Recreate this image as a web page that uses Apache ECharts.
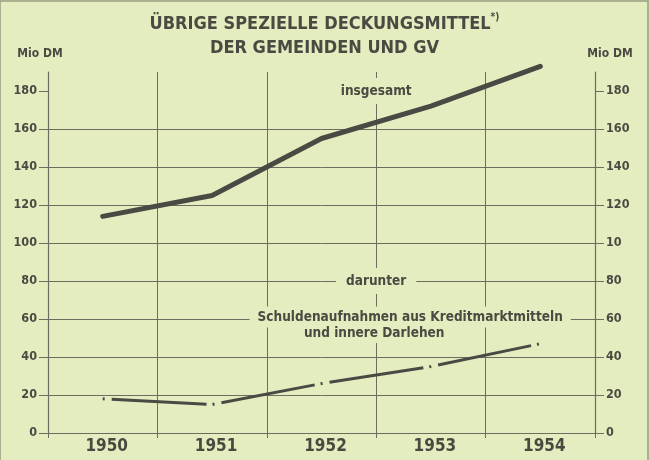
<!DOCTYPE html>
<html>
<head>
<meta charset="utf-8">
<script src="https://cdn.jsdelivr.net/npm/echarts@6/dist/echarts.min.js"></script>
<style>
html, body { margin: 0; padding: 0; background: #e4edbf; }
#chart { width: 649px; height: 460px; }
</style>
</head>
<body>
<div id="chart"></div>
<script>
// Werte in Mio DM
const years = ['1950', '1951', '1952', '1953', '1954']
const insgesamt = [114, 125, 155, 172, 193]
const schulden = [18, 15, 26, 35, 47]
const yTicks = [0, 20, 40, 60, 80, 100, 120, 140, 160, 180]
const yLabelsLeft = ['0', '20', '40', '60', '80', '100', '120', '140', '160', '180']
// rechte Achse: im Original steht "10" statt "100"
const yLabelsRight = ['0', '20', '40', '60', '80', '10', '120', '140', '160', '180']

const ink = '#4b4a42'
const gridInk = '#6d6c5e'
const bg = '#e4edbf'
const font = '"DejaVu Sans Condensed", "DejaVu Sans", sans-serif'

const chart = echarts.init(document.getElementById('chart'))

function yAxis(labels, right) {
  return {
    type: 'value',
    min: 0,
    max: 190,
    position: right ? 'right' : 'left',
    name: 'Mio DM',
    nameLocation: 'end',
    nameGap: 12,
    nameTextStyle: {
      color: ink, fontFamily: font, fontWeight: 'bold', fontSize: 12,
      padding: right ? [0, 0, 0, 30] : [0, 16, 0, 0]
    },
    axisLine: { show: true, lineStyle: { color: gridInk, width: 1.2 } },
    axisTick: { show: true, length: 9, customValues: yTicks, lineStyle: { color: gridInk } },
    axisLabel: {
      customValues: yTicks,
      margin: 11,
      color: ink, fontFamily: font, fontWeight: 'bold', fontSize: 12.5,
      formatter: (v) => labels[yTicks.indexOf(v)] ?? ''
    },
    splitLine: {
      show: !right, showMaxLine: false,
      lineStyle: { color: gridInk, width: 1 }
    }
  }
}

chart.setOption({
  backgroundColor: bg,
  animation: false,
  title: {
    left: 'center',
    top: 7,
    text: '{a|ÜBRIGE SPEZIELLE DECKUNGSMITTEL}{s|*)}\n{a|DER GEMEINDEN UND GV}',
    textStyle: {
      rich: {
        a: { color: ink, fontFamily: font, fontWeight: 'bold', fontSize: 18, lineHeight: 24 },
        s: { color: ink, fontFamily: font, fontWeight: 'bold', fontSize: 10, verticalAlign: 'top', lineHeight: 24, padding: [0, 0, 8, 0] }
      }
    }
  },
  grid: { left: 48, right: 54, top: 72, bottom: 27 },
  xAxis: {
    type: 'category',
    data: years,
    boundaryGap: true,
    axisLine: { lineStyle: { color: gridInk, width: 1.2 } },
    axisTick: { show: true, length: 5, lineStyle: { color: gridInk } },
    axisLabel: {
      margin: 5,
      padding: [0, 0, 0, 8],
      color: '#4a4940', fontFamily: font, fontWeight: 'bold', fontSize: 17
    },
    splitLine: { show: true, lineStyle: { color: gridInk, width: 1 } }
  },
  yAxis: [yAxis(yLabelsLeft, false), yAxis(yLabelsRight, true)],
  series: [
    {
      name: 'insgesamt',
      type: 'line',
      data: insgesamt,
      symbol: 'none',
      clip: false,
      z: 5,
      lineStyle: { color: '#4a4a44', width: 5, cap: 'round', join: 'round' }
    },
    {
      name: 'Schuldenaufnahmen',
      type: 'line',
      data: schulden,
      symbol: 'none',
      clip: false,
      z: 5,
      lineStyle: { color: '#4a4a44', width: 3, type: [2, 7, 95, 6], cap: 'butt' }
    }
  ]
})

// Beschriftungen an die Achsenwerte gehängt
const c2 = chart.convertToPixel({ xAxisIndex: 0 }, '1952')
const c3 = chart.convertToPixel({ xAxisIndex: 0 }, '1953')
const mid = (c2 + c3) / 2
const py = (v) => chart.convertToPixel({ yAxisIndex: 0 }, v)

function note(text, x, y, padding) {
  return {
    type: 'text',
    x, y,
    z: 10,
    style: {
      text,
      fill: ink,
      font: 'bold 13.5px ' + font,
      align: 'center',
      verticalAlign: 'middle',
      backgroundColor: bg,
      padding
    }
  }
}

chart.setOption({
  graphic: [
    note('insgesamt', mid, py(180), [6, 8, 6, 8]),
    note('darunter', mid, py(80), [6, 10, 6, 10]),
    note('Schuldenaufnahmen aus Kreditmarktmitteln', mid + 34, py(60) - 2, [4, 8, 3, 8]),
    note('und innere Darlehen', mid - 2, py(60) + 14, [2, 4, 4, 4]),
    { type: 'rect', shape: { x: 0, y: 1, width: 648, height: 460 }, style: { fill: 'none', stroke: '#9a9a82', lineWidth: 1.5 }, z: 0 }
  ]
})
</script>
</body>
</html>
